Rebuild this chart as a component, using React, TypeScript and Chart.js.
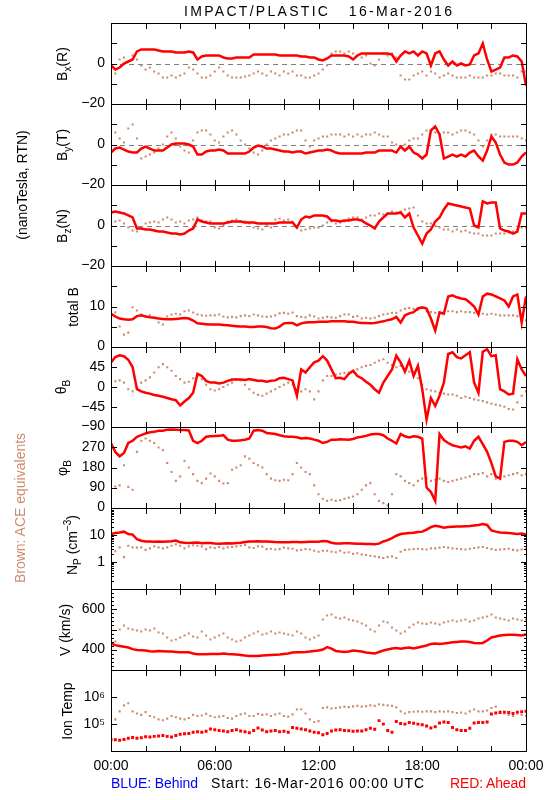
import React, { useEffect, useLayoutEffect, useRef } from 'react';
import { Chart, registerables } from 'chart.js';

Chart.register(...registerables);

const FONT = '"Liberation Sans", Arial, Helvetica, sans-serif';
const RED = '#ff0000';
const BROWN = '#cd8c6e';

// ---------------- time base (hours, every 15 min) ----------------
const HOURS: number[] = Array.from({ length: 97 }, (_, i) => i / 4);
const X_TICK_HOURS = [0, 2, 4, 6, 8, 10, 12, 14, 16, 18, 20, 22, 24];
const X_LABEL_HOURS = [0, 6, 12, 18, 24];
const X_LABELS = ['00:00', '06:00', '12:00', '18:00', '00:00'];

// ---------------- series (red = STEREO Ahead, brown = ACE) ----------------
const bxRed = [
  -1, -3, -2, 0, 1, 2, 6, 7,
  7, 7, 7, 6.5, 6, 6, 6, 5.5,
  5.5, 5.5, 6, 5.5, 2, 3.5, 4, 4,
  4, 4, 3, 2.5, 2.5, 3, 3, 3,
  3, 4.5, 4.5, 4.5, 4.5, 4.5, 4.5, 4,
  4, 4, 4, 4, 3.5, 3.5, 3, 3,
  2, 1.5, 2.5, 4, 4, 4, 4, 3.5,
  2, 4, 5, 5, 5, 5, 5, 5,
  5, 4.5, 1, 4, 6, 5, 6, 4,
  6, 5, -1, 5, 6, 2, -1, 1,
  -1, 0, -1, -0.5, 4, 5, 10, 2,
  -4, -3, -2, 3, 3, 4, 3.5, 1,
  -11,
];
const bxBrown = [
  -7, -5, 2, 3, 1, 4, 2, -1,
  -3, -2, -4, -5, -7, -7, -6, -7,
  -6, -5, -2, -3, -5, -7, -7, -6,
  -4, -2, -4, -6, -7, -7, -7, -6.5,
  -6, -5, -4, -5, -6, -4, -5, -6,
  -4, -5, -4, -6, -6, -7, -7, -6,
  -5, -3, -1, 5, 6, 6, 5, 6,
  5, 4, 3, 4, 0, -1, 2, 5,
  4, 5, 3, -6, -8, -8, -6, -5,
  -4, -6, -4, -5, -7, -6, -5, -6,
  -7, -7, -7, -6, -7, -7, -7, -6,
  -6, -5, -5, -6, -6, -6, -7, -4,
  -4,
];
const byRed = [
  -4, -2, -1.5, -2.5, -3.5, -4, -4, -2,
  -1, -2, -3, -3, -3, -1.5, 0, 0.5,
  0.5, 0.5, 0, -1, -5, -5, -3.5, -3,
  -3, -2.5, -3, -4.5, -4.5, -4.5, -4.5, -4.5,
  -3.5, -1.5, -0.5, -1, -2, -2, -2.5, -3,
  -3.5, -3.5, -4, -3.5, -3.5, -4.5, -4, -3.5,
  -3, -3, -2.5, -3, -4, -4.5, -4.5, -4.5,
  -4.5, -4.5, -4.5, -4, -4, -4, -3, -3,
  -3, -3, -4, -1, -3, -1, -4, -5,
  -7, -5, 7, 9, 5, -7, -6, -5,
  -6, -5, -6, -4, -3, -6, -8, -3,
  4, 1, -5, -9, -10, -10, -9, -6,
  -4,
];
const byBrown = [
  7, 6, 3, 1, 8, 10, 3, -7,
  -6, -5, -4, -2, 0, 4, 6, 3,
  -1, -3, -4, 2, 6, 7, 7, 5,
  2, 1, 4, 6, 7, 5, 2, 0,
  -2, -4, -5, -3, 0, 2, 3, 4,
  5, 5, 6, 7, 7, 2, -1, 2,
  3, 4, 4, 5, 5, 5, 4, 5,
  4, 5, 4, 5, 5, 6, 5, 4,
  4, 1, 0, -1, 0, 2, 3, 3,
  5, 7, 7, 6, 5, 6, 6, 5,
  6, 7, 7, 6, 5, 2, -1, 2,
  5, 5, 4, 4, 4, 4, 4, 3,
  2,
];
const bzRed = [
  6.5, 7, 6.5, 6, 5, 4, -1.5, -1.5,
  -2, -2, -2.5, -3, -3, -3.5, -4, -4,
  -4.5, -4, -2.5, -1.5, 3, 2, 1.5, 1,
  1, 1, 1, 1.5, 2, 2, 2, 1.5,
  1.5, 1.5, 1, 1, 1, 1, 1, 1.5,
  1.5, 1.5, 1.5, -1, 3, 4.5, 4, 5,
  5, 5, 4.5, 2.5, 2.5, 2, 2.5, 2.5,
  3, 3, 2.5, 1, 0, -1.5, 2, 4,
  6, 6, 6, 6.5, 4, 6, -1, -5,
  -9, -4, -2, 2, 4, 8, 11, 10.5,
  10, 9.5, 9, 8.5, 0, -1, 12, 11,
  11.5, 11.5, -1.5, -2.5, -3, -4, -3, 6,
  6,
];
const bzBrown = [
  0, 2, 2.5, 1, -1, -2.5, -3, -1,
  1, 1.5, 2, 1.5, 3, 4, 3, 1.5,
  2, 1, 2.5, 3, 4, 2.5, 2, 2,
  -1, -1.5, 0, 2, 2.5, 3, 2, 2,
  1, -1, -1.5, -2, 0, -1, 3, 3.5,
  2.5, 3, 2, -1, -2.5, -2, -1.5, -1,
  -1, 0, 1.5, 2, 1, 1.5, 2, 3.5,
  4, 4, 3, 4, 5, 5, 6, 5.5,
  6, 7, 6.5, 7, 8, 8.5, 9, 5,
  2, 1, 1, 0, -1, -2, -2, -3,
  -2, -3, -2.5, -3.5, -4, -4, -5, -5,
  -5, -4, -4, -4, -3.5, -3, -2, -1,
  -1,
];
const btRed = [
  8.2, 7.5, 7, 6.8, 6.7, 6.8, 7.6, 7.8,
  7.5, 7.3, 7.2, 7, 6.9, 6.8, 6.8, 6.9,
  7, 7.1, 7, 6.5, 5.8, 5.7, 5.6, 5.5,
  5.5, 5.5, 5.4, 5.3, 5.2, 5.1, 5, 5,
  4.9, 4.9, 5, 5, 4.9, 4.6, 4.5, 5,
  5.8, 5.9, 5.9, 5.3, 5.8, 6, 6.1, 6.1,
  6.2, 6.2, 6.2, 6.3, 6.3, 6.3, 6.3, 6.2,
  6.2, 6, 5.9, 5.9, 5.8, 5.9, 6.1, 6.3,
  6.6, 6.8, 7.4, 6, 7.8, 8.3, 8.6, 9.5,
  9.8, 9.5, 7, 4, 8.5, 8.2, 12.5, 12.8,
  12.3, 12, 11.8, 11, 10, 8, 12.5, 13.2,
  13, 12.5, 12, 11.5, 10, 12.5, 13, 6,
  12.5,
];
const btBrown = [
  9.4, 8.5, 5, 3, 3.5, 9.8, 9, 8,
  7.5, 7.8, 7.2, 6, 5.5, 7.5, 8, 8.2,
  8, 8.8, 9, 8.5, 8, 7.8, 7.7, 7.8,
  7.8, 8, 7.5, 7.3, 7.4, 7.3, 7.6, 7.8,
  7.6, 8, 7.8, 7.5, 7.4, 7.5, 7.8, 8.3,
  8.4, 8.2, 8.5, 7.6, 7.4, 7.3, 7.8, 7.5,
  7, 7.2, 7.4, 7.3, 7.2, 7.6, 8, 8,
  7.4, 7.6, 7, 7.2, 7, 7.2, 7.6, 8,
  8.2, 8.4, 8.4, 9, 9.4, 9.6, 9.4, 9.2,
  9.6, 8.8, 8.6, 8.4, 8.6, 8.6, 8.8, 8.8,
  8.6, 8.8, 8.6, 8.6, 8.4, 8.2, 8.2, 8,
  8.2, 8, 7.8, 7.8, 7.8, 7.8, 7.6, 7.2,
  6.6,
];
const thRed = [
  56, 68, 72, 70, 62, 45, -5, -10,
  -13, -15, -18, -20, -22, -25, -28, -30,
  -42, -33, -25, -13, 30, 25, 14, 10,
  10, 8, 10, 14, 17, 17, 17, 16,
  18, 16, 14, 14, 12, 14, 15, 20,
  21, 18, 15, -20, 40, 33, 45, 56,
  60, 70, 60, 40, 20, 21, 18, 30,
  37, 25, 20, 12, 5, -5, -13, 10,
  25, 40, 71, 56, 35, 60, 25, 48,
  -5, -74, -25, -43, -20, 10, 75, 79,
  68, 65, 72, 79, 10, -13, 80, 86,
  70, 72, -5, -10, -17, -15, 63, 40,
  25,
];
const thBrown = [
  0, 13, 15, 10, -5, -10, 0, 10,
  15, 22, 33, 45, 52, 45, 37, 25,
  18, 10, 12, 20, 25, 18, 5, -5,
  -8, -5, 0, 5, 10, 18, 15, 5,
  -5, -13, -18, -20, -15, -10, -5, 0,
  5, 10, 5, -5, -10, -5, -10, -28,
  -10, 15, 25, 25, 28, 30, 32, 33,
  35, 40, 45, 48, 50, 55, 60, 63,
  55, 50, 45, 48, 40, 35, 33, 20,
  5, -5, -8, -10, -13, -15, -17, -17,
  -20, -25, -22, -25, -28, -30, -32, -35,
  -38, -40, -42, -45, -50, -51, -35, -20,
  -10,
];
const phRed = [
  288, 250, 230, 245, 290, 300, 318, 325,
  333, 338, 340, 345, 345, 350, 351, 350,
  348, 348, 346, 300, 290, 300, 318, 320,
  321, 322, 325, 305, 300, 300, 302, 305,
  310, 345, 348, 345, 335, 333, 330, 325,
  320, 318, 318, 316, 310, 312, 310, 305,
  300, 290, 295, 305, 305, 307, 306, 305,
  308, 315, 318, 322, 328, 330, 330, 325,
  310, 300, 288, 330, 320, 315, 320, 318,
  310, 90, 70, 30, 330, 303, 290, 280,
  275, 270, 275, 265, 300, 318, 285, 250,
  200, 140, 130, 295, 300, 300, 295, 280,
  295,
];
const phBrown = [
  123, 95, 100, 190, 93, 80, 250, 300,
  310, 300, 290, 270, 258, 200, 160, 120,
  140, 210, 180, 150, 120, 110, 130, 153,
  140, 120, 108, 110, 170, 180, 190, 230,
  220, 200, 190, 180, 150, 130, 123, 120,
  125, 123, 150, 200, 180, 160, 150, 100,
  60, 40, 30, 35, 30, 33, 40, 45,
  50, 60, 80, 100, 110, 60, 30, 20,
  10, 60, 150, 140, 120, 110, 100, 120,
  130, 130, 120, 125, 130, 120, 115, 120,
  125, 130, 135, 140, 150, 150, 155, 140,
  150, 130, 135, 140, 145, 150, 155, 145,
  150,
];
const npRed = [
  10.9, 12, 12.6, 13.5, 11, 10.5, 7, 6.2,
  5.8, 5.8, 5.6, 5.8, 5.6, 5.8, 5.9, 6.3,
  5.4, 5.2, 5.1, 5.2, 5.3, 5, 5.1, 5.1,
  4.9, 4.8, 4.9, 5, 4.9, 5.1, 5.2, 5.5,
  5.8, 5.8, 5.9, 5.8, 5.8, 5.7, 5.5, 5.4,
  5.4, 5.4, 5.5, 5.5, 5.4, 5.5, 5.6, 5.6,
  5.7, 6, 5.9, 5.2, 4.9, 4.9, 5, 5,
  4.9, 4.8, 4.8, 4.7, 4.7, 4.6, 4.8, 5.8,
  6.5, 7.8, 9.5, 11, 11.5, 12, 12.2, 13,
  13.5, 16, 20, 22.4, 21, 19, 20, 20.5,
  21, 21, 21.5, 22, 23, 24, 25.9, 24,
  15, 13.5, 12.6, 12.3, 12, 11.5, 11, 11.5,
  10.5,
];
const npBrown = [
  3.5, 2.5, 3.5, 1.5, 4, 3.5, 3.4, 3.5,
  2.8, 3.2, 3.8, 3.5, 3.2, 3.5, 4, 4.5,
  4, 3.2, 3.8, 4.2, 4, 3.8, 3, 3.5,
  3.3, 3.6, 3.2, 3.5, 3.6, 3.8, 4, 4.3,
  3.5, 3.3, 3.8, 3.7, 3, 3.1, 2.9, 3,
  3.4, 3.2, 3.1, 2.7, 2.8, 3, 2.9, 2.6,
  2.4, 2.6, 2.6, 2.4, 2.3, 2.6, 2.2, 2.3,
  2, 2.1, 1.9, 1.8, 1.7, 1.6, 1.5, 1.4,
  1.5, 1.6, 1.4, 2.4, 2.8, 2.9, 3, 3.1,
  3, 2.9, 3.2, 3.2, 3.4, 3.6, 3.4, 3.2,
  3.1, 3, 2.9, 3.1, 3.3, 3.5, 3.6, 3.3,
  3, 2.8, 2.9, 3, 3.1, 2.8, 2.7, 2.9,
  3,
];
const vRed = [
  430, 422, 418, 414, 410, 402, 398, 397,
  395, 392, 390, 393, 392, 390, 390, 388,
  386, 386, 386, 380, 377, 376, 377, 378,
  378, 378, 380, 378, 377, 375, 373, 370,
  368, 368, 368, 370, 372, 373, 374, 375,
  378, 380, 385, 386, 387, 388, 390, 393,
  395, 400, 412, 405, 393, 390, 388, 390,
  395, 393, 390, 385, 383, 380, 388, 395,
  400, 405, 408, 404, 408, 410, 405, 410,
  415, 420, 428, 430, 428, 430, 433, 436,
  438, 440, 440, 438, 433, 432, 433, 445,
  460, 465, 470, 472, 474, 474, 472, 470,
  475,
];
const vBrown = [
  460, 440, 500, 520, 505, 500, 495, 490,
  500, 495, 505, 485, 480, 460, 445, 450,
  460, 470, 480, 465, 460, 490, 470, 450,
  460, 470, 480, 460, 450, 440, 445, 460,
  470, 480, 490, 475, 480, 490, 480, 485,
  480, 475, 470, 490, 480, 460, 450, 460,
  470, 550, 570, 575, 560, 555, 560, 550,
  545, 540, 530, 520, 500, 490, 520, 540,
  535, 510, 495, 480, 490, 510, 525, 535,
  530, 528, 535, 530, 525, 535, 540, 545,
  540, 545, 550, 540, 545, 555, 560, 565,
  575, 560, 555, 550, 545, 555, 550, 545,
  550,
];
const tRed = [
  2.7e4, 2.6e4, 2.5e4, 2.7e4, 3.0e4, 3.2e4, 3.0e4, 3.1e4,
  3.4e4, 3.3e4, 3.5e4, 3.6e4, 3.8e4, 3.5e4, 3.3e4, 3.8e4,
  4.2e4, 4.4e4, 4.5e4, 5.0e4, 5.2e4, 5.0e4, 5.4e4, 6.6e4,
  6.2e4, 5.8e4, 5.6e4, 5.2e4, 5.8e4, 6.2e4, 5.6e4, 5.2e4,
  4.8e4, 5.8e4, 7.2e4, 6.0e4, 5.2e4, 5.5e4, 5.8e4, 5.2e4,
  5.4e4, 5.0e4, 7.5e4, 7.0e4, 6.6e4, 6.2e4, 5.5e4, 5.0e4,
  4.8e4, 4.0e4, 4.5e4, 5.5e4, 6.0e4, 6.2e4, 5.8e4, 5.7e4,
  5.4e4, 5.6e4, 5.5e4, 6.2e4, 7.0e4, 6.5e4, 1.35e5, 1.0e5,
  5.8e4, 5.0e4, 1.25e5, 1.05e5, 1.0e5, 1.15e5, 1.08e5, 1.0e5,
  9.5e4, 8.5e4, 7.2e4, 8.0e4, 1.1e5, 1.2e5, 1.15e5, 7.5e4,
  6.2e4, 5.8e4, 5.8e4, 7.0e4, 1.1e5, 1.15e5, 1.15e5, 1.2e5,
  2.4e5, 2.6e5, 2.7e5, 2.8e5, 2.7e5, 2.5e5, 2.8e5, 2.9e5,
  3.0e5,
];
const tBrown = [
  2.0e5, 1.5e5, 3.0e5, 5.0e5, 6.0e5, 3.0e5, 2.5e5, 2.2e5,
  2.8e5, 2.0e5, 1.8e5, 1.5e5, 1.4e5, 1.6e5, 2.0e5, 1.8e5,
  1.6e5, 1.5e5, 1.7e5, 2.2e5, 2.0e5, 2.1e5, 2.4e5, 2.0e5,
  1.8e5, 1.9e5, 2.0e5, 1.7e5, 1.6e5, 2.0e5, 2.3e5, 2.5e5,
  2.0e5, 2.0e5, 2.4e5, 2.2e5, 2.3e5, 2.0e5, 2.3e5, 2.5e5,
  2.0e5, 1.9e5, 2.3e5, 3.5e5, 3.6e5, 2.5e5, 1.5e5, 1.2e5,
  1.3e5, 4.0e5, 4.2e5, 3.8e5, 4.0e5, 4.2e5, 4.5e5, 4.3e5,
  4.6e5, 4.8e5, 4.5e5, 4.7e5, 5.0e5, 4.8e5, 5.5e5, 5.2e5,
  5.0e5, 4.8e5, 4.2e5, 3.0e5, 2.5e5, 2.8e5, 2.9e5, 3.0e5,
  2.9e5, 3.0e5, 3.0e5, 2.8e5, 3.0e5, 2.9e5, 3.0e5, 2.8e5,
  2.6e5, 2.7e5, 2.5e5, 3.0e5, 3.5e5, 3.0e5, 3.0e5, 3.2e5,
  4.0e5, 4.5e5, 3.0e5, 2.5e5, 2.2e5, 2.0e5, 2.5e5, 2.2e5,
  2.0e5,
];

// ---------------- axis ticks and labels ----------------
const B_MAJOR = [-10, 0, 10];
const B_LABEL_VALUES = [-20, 0];
const B_LABELS = ['\u221220', '0'];
const BT_MAJOR = [5, 10, 15];
const BT_LABEL_VALUES = [0, 10];
const BT_LABELS = ['0', '10'];
const TH_MAJOR = [-45, 0, 45];
const TH_LABEL_VALUES = [-90, -45, 0, 45];
const TH_LABELS = ['\u221290', '\u221245', '0', '45'];
const PH_MAJOR = [90, 180, 270];
const PH_LABEL_VALUES = [0, 90, 180, 270];
const PH_LABELS = ['0', '90', '180', '270'];
const NP_MAJOR = [1, 10];
const NP_MINOR = [0.2, 0.3, 0.4, 0.5, 0.6, 0.7, 0.8, 0.9, 2, 3, 4, 5, 6, 7, 8, 9, 20, 30, 40, 50, 60, 70, 80, 90];
const NP_LABEL_VALUES = [1, 10];
const NP_LABELS = ['1', '10'];
const V_MAJOR = [400, 500, 600];
const V_MINOR = [320, 340, 360, 380, 420, 440, 460, 480, 520, 540, 560, 580, 620, 640, 660, 680];
const V_LABEL_VALUES = [400, 600];
const V_LABELS = ['400', '600'];
const T_MAJOR = [1e5, 1e6];
const T_LABEL_VALUES = [1e5, 1e6];
const T_LABELS = ['10\u2075', '10\u2076'];

// ---------------- layout ----------------
const EDGES = [23, 104, 185, 266, 347, 427, 508, 589, 670, 751];
const PAD = 14;

type PanelDef = {
  red: number[];
  brown: number[];
  type: 'linear' | 'logarithmic';
  min: number;
  max: number;
  major: number[];
  minor: number[];
  labelValues: number[];
  labels: string[];
  zero?: boolean;
  redDots?: boolean;
};

const PANELS: PanelDef[] = [
  { red: bxRed, brown: bxBrown, type: 'linear', min: -20, max: 20, major: B_MAJOR, minor: [], labelValues: B_LABEL_VALUES, labels: B_LABELS, zero: true },
  { red: byRed, brown: byBrown, type: 'linear', min: -20, max: 20, major: B_MAJOR, minor: [], labelValues: B_LABEL_VALUES, labels: B_LABELS, zero: true },
  { red: bzRed, brown: bzBrown, type: 'linear', min: -20, max: 20, major: B_MAJOR, minor: [], labelValues: B_LABEL_VALUES, labels: B_LABELS, zero: true },
  { red: btRed, brown: btBrown, type: 'linear', min: 0, max: 20, major: BT_MAJOR, minor: [], labelValues: BT_LABEL_VALUES, labels: BT_LABELS },
  { red: thRed, brown: thBrown, type: 'linear', min: -90, max: 90, major: TH_MAJOR, minor: [], labelValues: TH_LABEL_VALUES, labels: TH_LABELS },
  { red: phRed, brown: phBrown, type: 'linear', min: 0, max: 360, major: PH_MAJOR, minor: [], labelValues: PH_LABEL_VALUES, labels: PH_LABELS },
  { red: npRed, brown: npBrown, type: 'logarithmic', min: 0.1, max: 100, major: NP_MAJOR, minor: NP_MINOR, labelValues: NP_LABEL_VALUES, labels: NP_LABELS },
  { red: vRed, brown: vBrown, type: 'linear', min: 300, max: 700, major: V_MAJOR, minor: V_MINOR, labelValues: V_LABEL_VALUES, labels: V_LABELS },
  { red: tRed, brown: tBrown, type: 'logarithmic', min: 1e4, max: 1e7, major: T_MAJOR, minor: [], labelValues: T_LABEL_VALUES, labels: T_LABELS, redDots: true },
];

function makeFramePlugin(def: PanelDef, last: boolean) {
  return {
    id: 'frame',
    beforeDatasetsDraw(chart: any) {
      if (!def.zero) return;
      const { ctx, chartArea: ca, scales } = chart;
      const y = Math.round(scales.y.getPixelForValue(0)) + 0.5;
      ctx.save();
      ctx.strokeStyle = '#808080';
      ctx.lineWidth = 1;
      ctx.setLineDash([5, 4]);
      ctx.beginPath();
      ctx.moveTo(ca.left, y);
      ctx.lineTo(ca.right, y);
      ctx.stroke();
      ctx.restore();
    },
    afterDatasetsDraw(chart: any) {
      const { ctx, chartArea: ca, scales } = chart;
      const L = Math.round(ca.left);
      const R = Math.round(ca.right);
      const T = Math.round(ca.top);
      const B = Math.round(ca.bottom);
      ctx.save();
      ctx.fillStyle = '#000';
      ctx.fillRect(L, T, R - L + 1, 1);
      ctx.fillRect(L, B, R - L + 1, 1);
      ctx.fillRect(L, T, 1, B - T + 1);
      ctx.fillRect(R, T, 1, B - T + 1);
      X_TICK_HOURS.forEach((h) => {
        const px = Math.round(scales.x.getPixelForValue(h));
        ctx.fillRect(px, T, 1, 6);
        ctx.fillRect(px, B - 5, 1, 6);
      });
      def.major.forEach((v) => {
        const py = Math.round(scales.y.getPixelForValue(v));
        ctx.fillRect(L, py, 6, 1);
        ctx.fillRect(R - 5, py, 6, 1);
      });
      def.minor.forEach((v) => {
        const py = Math.round(scales.y.getPixelForValue(v));
        ctx.fillRect(L, py, 3, 1);
        ctx.fillRect(R - 2, py, 3, 1);
      });
      if (last) {
        ctx.font = `14px ${FONT}`;
        ctx.textAlign = 'center';
        ctx.textBaseline = 'alphabetic';
        X_LABEL_HOURS.forEach((h, i) => {
          ctx.fillText(X_LABELS[i], scales.x.getPixelForValue(h), B + 19);
        });
      }
      ctx.restore();
    },
  };
}

function Panel({ def, top, bottom, last }: { def: PanelDef; top: number; bottom: number; last: boolean }) {
  const ref = useRef<HTMLCanvasElement>(null);
  const extra = last ? 36 : 0;
  const height = bottom - top + 2 * PAD + extra;
  useEffect(() => {
    if (!ref.current) return;
    const redData = HOURS.map((h, i) => ({ x: h, y: def.red[i] }));
    const brownData = HOURS.map((h, i) => ({ x: h, y: def.brown[i] }));
    const redSet: any = def.redDots
      ? { label: 'Ahead', data: redData, showLine: false, pointStyle: 'rect', pointRadius: 2.1, pointBackgroundColor: RED, pointBorderWidth: 0, borderColor: RED, backgroundColor: RED }
      : { label: 'Ahead', data: redData, borderColor: RED, backgroundColor: RED, borderWidth: 2.5, pointRadius: 0, tension: 0, fill: false };
    const chart = new Chart(ref.current, {
      type: 'line',
      data: {
        datasets: [
          redSet,
          { label: 'ACE', data: brownData, showLine: false, pointStyle: 'rect', pointRadius: 1.5, pointBackgroundColor: BROWN, pointBorderWidth: 0, borderColor: BROWN, backgroundColor: BROWN },
        ],
      },
      options: {
        responsive: false,
        animation: false,
        events: [],
        layout: { padding: { left: 0, right: 24, top: PAD, bottom: PAD + extra } },
        plugins: { legend: { display: false }, tooltip: { enabled: false } },
        scales: {
          x: { type: 'linear', min: 0, max: 24, display: false },
          y: {
            type: def.type,
            min: def.min,
            max: def.max,
            position: 'left',
            grid: { display: false, drawTicks: false },
            border: { display: false },
            ticks: {
              autoSkip: false,
              padding: 6,
              color: '#000',
              font: { family: FONT, size: 14 },
              callback: (_v: any, i: number) => def.labels[i] ?? '',
            },
            afterBuildTicks: (s: any) => {
              s.ticks = def.labelValues.map((v) => ({ value: v }));
            },
            afterFit: (s: any) => {
              s.width = 111;
            },
          } as any,
        },
      } as any,
      plugins: [makeFramePlugin(def, last)],
    });
    return () => chart.destroy();
  }, []);
  return (
    <canvas
      ref={ref}
      width={550}
      height={height}
      style={{ position: 'absolute', left: 0, top: top - PAD, width: 550, height }}
    />
  );
}

function RotText({ cx, cy, color = '#000', children }: { cx: number; cy: number; color?: string; children: React.ReactNode }) {
  return (
    <div
      style={{
        position: 'absolute',
        left: cx,
        top: cy,
        transform: 'translate(-50%, -50%) rotate(-90deg)',
        whiteSpace: 'nowrap',
        fontFamily: FONT,
        fontSize: 14,
        lineHeight: '14px',
        color,
      }}
    >
      {children}
    </div>
  );
}

function Sub({ children }: { children: React.ReactNode }) {
  return <span style={{ fontSize: 10, position: 'relative', top: 4 }}>{children}</span>;
}
function Sup({ children }: { children: React.ReactNode }) {
  return <span style={{ fontSize: 10, position: 'relative', top: -6 }}>{children}</span>;
}

function FitText({ text, left, top, width, color = '#000' }: { text: string; left: number; top: number; width: number; color?: string }) {
  const ref = useRef<HTMLDivElement>(null);
  useLayoutEffect(() => {
    const el = ref.current;
    if (!el) return;
    el.style.letterSpacing = '0px';
    const w = el.getBoundingClientRect().width;
    el.style.letterSpacing = `${(width - w) / Math.max(1, text.length - 1)}px`;
  }, [text, width]);
  return (
    <div
      ref={ref}
      style={{ position: 'absolute', left, top, whiteSpace: 'pre', fontFamily: FONT, fontSize: 14, lineHeight: '14px', color }}
    >
      {text}
    </div>
  );
}

export default function App() {
  const centers = EDGES.slice(0, -1).map((e, i) => (e + EDGES[i + 1]) / 2);
  return (
    <div style={{ position: 'fixed', left: 0, top: 0, width: 550, height: 800, background: '#fff', overflow: 'hidden' }}>
      {PANELS.map((p, i) => (
        <Panel key={i} def={p} top={EDGES[i]} bottom={EDGES[i + 1]} last={i === PANELS.length - 1} />
      ))}
      <FitText text="IMPACT/PLASTIC   16-Mar-2016" left={184} top={4} width={268} />
      <FitText text="BLUE: Behind" left={111} top={776} width={87} color="#0000ff" />
      <FitText text="Start: 16-Mar-2016 00:00 UTC" left={211} top={776} width={213} />
      <FitText text="RED: Ahead" left={450} top={776} width={76} color={RED} />

      <RotText cx={22} cy={185}>(nanoTesla, RTN)</RotText>
      <RotText cx={20} cy={508} color={BROWN}>Brown: ACE equivalents</RotText>

      <RotText cx={63} cy={centers[0]}>B<Sub>x</Sub>(R)</RotText>
      <RotText cx={63} cy={centers[1]}>B<Sub>y</Sub>(T)</RotText>
      <RotText cx={63} cy={centers[2]}>B<Sub>z</Sub>(N)</RotText>
      <RotText cx={73} cy={centers[3]}>total B</RotText>
      <RotText cx={62} cy={centers[4]}>&theta;<Sub>B</Sub></RotText>
      <RotText cx={63} cy={centers[5]}>&phi;<Sub>B</Sub></RotText>
      <RotText cx={73} cy={centers[6] - 4}>N<Sub>P</Sub> (cm<Sup>{'\u22123'}</Sup>)</RotText>
      <RotText cx={65} cy={centers[7]}>V (km/s)</RotText>
      <RotText cx={67} cy={centers[8]}>Ion Temp</RotText>
    </div>
  );
}
